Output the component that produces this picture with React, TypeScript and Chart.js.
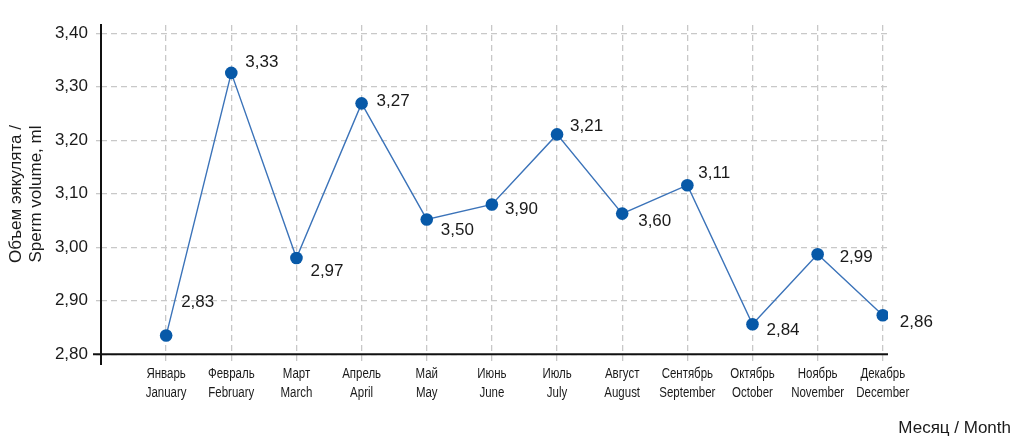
import React, { useEffect, useRef } from "react";
import { Chart, registerables } from "chart.js";

Chart.register(...registerables);

const MONTHS_RU = ["Январь", "Февраль", "Март", "Апрель", "Май", "Июнь", "Июль", "Август", "Сентябрь", "Октябрь", "Ноябрь", "Декабрь"];
const MONTHS_EN = ["January", "February", "March", "April", "May", "June", "July", "August", "September", "October", "November", "December"];
const VOLUME = [2.835, 3.326, 2.98, 3.269, 3.052, 3.08, 3.211, 3.063, 3.116, 2.856, 2.987, 2.873];
const VALUE_LABELS = ["2,83", "3,33", "2,97", "3,27", "3,50", "3,90", "3,21", "3,60", "3,11", "2,84", "2,99", "2,86"];
const Y_TICKS = [2.8, 2.9, 3.0, 3.1, 3.2, 3.3, 3.4];

// label placement relative to each point (pixels)
const LABEL_OFFSETS: [number, number][] = [
  [15, -33], [14, -11], [14, 13], [15, -2], [14, 11], [13, 5],
  [13, -8], [16, 8], [11, -12], [14, 6], [22, 3], [17, 7],
];

const FONT = "'Liberation Sans', Arial, sans-serif";
const TEXT = "#1a1a1a";
const GRID = "#c8c8c8";

const overlay = {
  id: "overlay",
  afterDatasetsDraw(chart: any) {
    const ctx = chart.ctx;
    const ys = chart.scales.y;
    const xs = chart.scales.x;
    const area = chart.chartArea;
    ctx.save();
    // x axis line at 2.80
    const y0 = ys.getPixelForValue(Y_TICKS[0]);
    ctx.strokeStyle = "#111";
    ctx.lineWidth = 2;
    ctx.beginPath();
    ctx.moveTo(area.left - 8, y0);
    ctx.lineTo(area.right, y0);
    ctx.stroke();
    // y axis line
    ctx.beginPath();
    ctx.moveTo(area.left, area.top - 1);
    ctx.lineTo(area.left, area.bottom + 2);
    ctx.stroke();

    // x category labels (condensed)
    ctx.fillStyle = TEXT;
    ctx.font = `14px ${FONT}`;
    ctx.textAlign = "center";
    ctx.textBaseline = "middle";
    xs.ticks.forEach((t: any) => {
      const i = Math.round(t.value) - 1;
      const px = xs.getPixelForValue(t.value);
      ctx.save();
      ctx.translate(px, xs.top);
      ctx.scale(0.82, 1);
      ctx.fillText(MONTHS_RU[i], 0, 11.5);
      ctx.fillText(MONTHS_EN[i], 0, 30.4);
      ctx.restore();
    });

    // value labels
    const meta = chart.getDatasetMeta(0);
    ctx.font = `17px ${FONT}`;
    ctx.textAlign = "left";
    meta.data.forEach((pt: any, i: number) => {
      const [dx, dy] = LABEL_OFFSETS[i];
      ctx.fillText(VALUE_LABELS[i], pt.x + dx, pt.y + dy);
    });

    // x axis title
    ctx.textAlign = "right";
    ctx.fillText("Месяц / Month", chart.width - 13, 428);
    ctx.restore();
  },
};

export default function App() {
  const ref = useRef<HTMLCanvasElement | null>(null);
  useEffect(() => {
    document.body.style.margin = "0";
    if (!ref.current) return;
    const chart = new Chart(ref.current, {
      type: "line",
      data: {
        datasets: [
          {
            data: VOLUME.map((v, i) => ({ x: i + 1, y: v })),
            borderColor: "#3b73b9",
            borderWidth: 1.4,
            backgroundColor: "#0759a8",
            pointBackgroundColor: "#0759a8",
            pointBorderColor: "#0759a8",
            pointBorderWidth: 0,
            pointRadius: 6.3,
            tension: 0,
            fill: false,
          },
        ],
      },
      options: {
        animation: false,
        responsive: true,
        maintainAspectRatio: false,
        layout: { padding: { top: 25, right: 136, left: 0, bottom: 0 } },
        plugins: { legend: { display: false }, tooltip: { enabled: false } },
        scales: {
          x: {
            type: "linear",
            min: 0,
            max: 12.08,
            afterBuildTicks: (s: any) => {
              s.ticks = MONTHS_EN.map((_, i) => ({ value: i + 1 }));
            },
            afterFit: (s: any) => {
              s.height = 77;
            },
            border: { display: false, dash: [6, 4] },
            grid: {
              color: GRID,
              lineWidth: 1.3,
              drawTicks: false,
            },
            ticks: {
              display: false,
              autoSkip: false,
              maxRotation: 0,
            },
          },
          y: {
            min: 2.7837,
            max: 3.4155,
            afterBuildTicks: (s: any) => {
              s.ticks = Y_TICKS.map((v) => ({ value: v }));
            },
            afterFit: (s: any) => {
              s.width = 101;
            },
            border: { display: false, dash: [6, 4] },
            grid: {
              color: GRID,
              lineWidth: 1.3,
              tickLength: 5,
            },
            ticks: {
              padding: 8,
              color: TEXT,
              font: { family: FONT, size: 17 },
              callback: (v: any) => Number(v).toFixed(2).replace(".", ","),
            },
            title: {
              display: true,
              text: ["Объем эякулята /", "Sperm volume, ml"],
              color: TEXT,
              font: { family: FONT, size: 17, lineHeight: 1.18 },
              padding: { top: 6, bottom: 0 },
            },
          },
        },
      },
      plugins: [overlay],
    } as any);
    return () => chart.destroy();
  }, []);
  return (
    <div style={{ width: 1024, height: 440, position: "relative", background: "#fff" }}>
      <canvas ref={ref} />
    </div>
  );
}
